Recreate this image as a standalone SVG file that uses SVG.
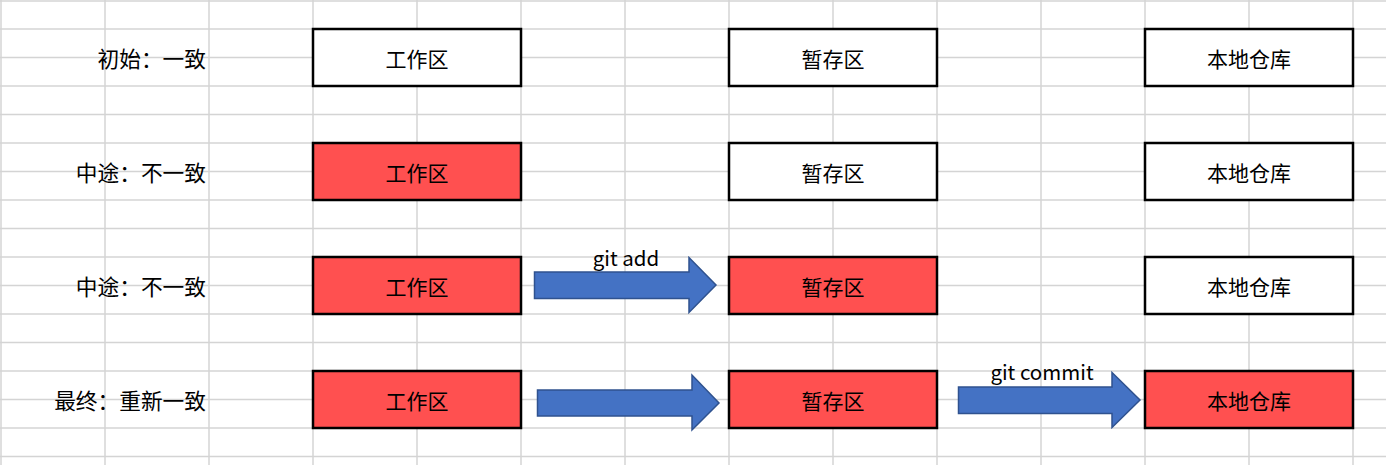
<svg xmlns="http://www.w3.org/2000/svg" width="1386" height="465" viewBox="0 0 1386 465">
<style>
.grid line{stroke:#d4d4d4;stroke-width:1.5}
.box{stroke:#000;stroke-width:2.5}
.w{fill:#fff}
.r{fill:#ff5050}
.t{font-family:"Noto Sans CJK SC","Microsoft YaHei",sans-serif;font-size:21px;fill:#000;dominant-baseline:central}
.lbl{text-anchor:end;font-size:21.7px}
.c{text-anchor:middle}
.arr{fill:#4472c4;stroke:#2f528f;stroke-width:1.5}
.at{font-family:"Noto Sans CJK SC",sans-serif;font-size:20.5px;fill:#000;text-anchor:middle}
</style>
<rect width="1386" height="465" fill="#fff"/>
<g class="grid">
<line x1="1" y1="0" x2="1" y2="465"/><line x1="105" y1="0" x2="105" y2="465"/><line x1="209" y1="0" x2="209" y2="465"/><line x1="313" y1="0" x2="313" y2="465"/><line x1="417" y1="0" x2="417" y2="465"/><line x1="521" y1="0" x2="521" y2="465"/><line x1="625" y1="0" x2="625" y2="465"/><line x1="729" y1="0" x2="729" y2="465"/><line x1="833" y1="0" x2="833" y2="465"/><line x1="937" y1="0" x2="937" y2="465"/><line x1="1041" y1="0" x2="1041" y2="465"/><line x1="1145" y1="0" x2="1145" y2="465"/><line x1="1249" y1="0" x2="1249" y2="465"/><line x1="1353" y1="0" x2="1353" y2="465"/>
<line x1="0" y1="1" x2="1386" y2="1"/><line x1="0" y1="29" x2="1386" y2="29"/><line x1="0" y1="57.5" x2="1386" y2="57.5"/><line x1="0" y1="86" x2="1386" y2="86"/><line x1="0" y1="114.5" x2="1386" y2="114.5"/><line x1="0" y1="143" x2="1386" y2="143"/><line x1="0" y1="171.5" x2="1386" y2="171.5"/><line x1="0" y1="200" x2="1386" y2="200"/><line x1="0" y1="228.5" x2="1386" y2="228.5"/><line x1="0" y1="257" x2="1386" y2="257"/><line x1="0" y1="285.5" x2="1386" y2="285.5"/><line x1="0" y1="314" x2="1386" y2="314"/><line x1="0" y1="342.5" x2="1386" y2="342.5"/><line x1="0" y1="371" x2="1386" y2="371"/><line x1="0" y1="399.5" x2="1386" y2="399.5"/><line x1="0" y1="428" x2="1386" y2="428"/><line x1="0" y1="456.5" x2="1386" y2="456.5"/>
</g>
<g id="labels">
<text class="t lbl" x="206" y="57">初始：一致</text>
<text class="t lbl" x="206" y="171">中途：不一致</text>
<text class="t lbl" x="206" y="285">中途：不一致</text>
<text class="t lbl" x="206" y="399">最终：重新一致</text>
</g>
<g id="row1">
<g id="wk1"><rect class="box w" x="313" y="29" width="208" height="57"/><text class="t c" x="417" y="58">工作区</text></g>
<g id="st1"><rect class="box w" x="729" y="29" width="208" height="57"/><text class="t c" x="833" y="58">暂存区</text></g>
<g id="rp1"><rect class="box w" x="1145" y="29" width="208" height="57"/><text class="t c" x="1249" y="58">本地仓库</text></g>
</g>
<g id="row2">
<g id="wk2"><rect class="box r" x="313" y="143" width="208" height="57"/><text class="t c" x="417" y="172">工作区</text></g>
<g id="st2"><rect class="box w" x="729" y="143" width="208" height="57"/><text class="t c" x="833" y="172">暂存区</text></g>
<g id="rp2"><rect class="box w" x="1145" y="143" width="208" height="57"/><text class="t c" x="1249" y="172">本地仓库</text></g>
</g>
<g id="row3">
<g id="wk3"><rect class="box r" x="313" y="257" width="208" height="57"/><text class="t c" x="417" y="286">工作区</text></g>
<g id="st3"><rect class="box r" x="729" y="257" width="208" height="57"/><text class="t c" x="833" y="286">暂存区</text></g>
<g id="rp3"><rect class="box w" x="1145" y="257" width="208" height="57"/><text class="t c" x="1249" y="286">本地仓库</text></g>
</g>
<g id="row4">
<g id="wk4"><rect class="box r" x="313" y="371" width="208" height="57"/><text class="t c" x="417" y="400">工作区</text></g>
<g id="st4"><rect class="box r" x="729" y="371" width="208" height="57"/><text class="t c" x="833" y="400">暂存区</text></g>
<g id="rp4"><rect class="box r" x="1145" y="371" width="208" height="57"/><text class="t c" x="1249" y="400">本地仓库</text></g>
</g>
<g id="connectors">
<polygon class="arr" points="534.5,272 689,272 689,257.5 716,285 689,312.5 689,298.5 534.5,298.5"/>
<text class="at" x="626" y="266">git add</text>
<polygon class="arr" points="537.5,390 692,390 692,375 719,403 692,430 692,416 537.5,416"/>
<polygon class="arr" points="958.5,387 1112,387 1112,372.5 1140,400 1112,427.5 1112,413.5 958.5,413.5"/>
<text class="at" x="1042" y="380">git commit</text>
</g>
</svg>
